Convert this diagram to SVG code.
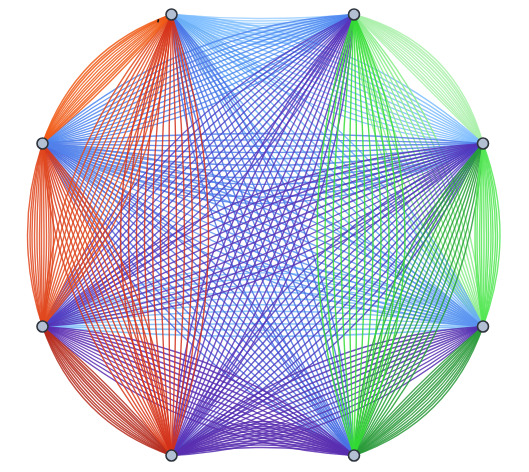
<svg xmlns="http://www.w3.org/2000/svg" width="529" height="472" viewBox="0 0 529 472">
<style>
.e path{fill:none;stroke-width:1.4;vector-effect:non-scaling-stroke}
.e g{stroke-opacity:0.85}
.n{fill:#b3bfd3;stroke:#2e343c;stroke-width:1.6}
</style>
<rect width="529" height="472" fill="#ffffff"/>
<g id="connectors" class="e">
<g id="e0-1" transform="matrix(1.825 0 0 1 171.5 14.5)" stroke="#9ccfff"><path d="M0 0Q50 8 100 0"/><path d="M0 0Q50 13 100 0"/><path d="M0 0Q50 18 100 0"/><path d="M0 0Q50 22 100 0"/><path d="M0 0Q50 27 100 0"/><path d="M0 0Q50 32 100 0"/><path d="M0 0Q50 36 100 0"/><path d="M0 0Q50 41 100 0"/><path d="M0 0Q50 46 100 0"/><path d="M0 0Q50 50 100 0"/><path d="M0 0Q50 55 100 0"/><path d="M0 0Q50 60 100 0"/></g>
<g id="e1-2" transform="matrix(1.29 1.29 -0.7071 0.7071 354 14.5)" stroke="#aaf0aa"><path d="M0 0Q50 -52 100 0"/><path d="M0 0Q50 -47 100 0"/><path d="M0 0Q50 -43 100 0"/><path d="M0 0Q50 -38 100 0"/><path d="M0 0Q50 -33 100 0"/><path d="M0 0Q50 -28 100 0"/><path d="M0 0Q50 -24 100 0"/><path d="M0 0Q50 -19 100 0"/><path d="M0 0Q50 -14 100 0"/><path d="M0 0Q50 -9 100 0"/><path d="M0 0Q50 -5 100 0"/><path d="M0 0Q50 0 100 0"/></g>
<g id="e0-2" transform="matrix(3.115 1.29 -0.3826 0.9239 171.5 14.5)" stroke="#7cbcff"><path d="M0 0Q50 -58 100 0"/><path d="M0 0Q50 -47.5 100 0"/><path d="M0 0Q50 -37 100 0"/><path d="M0 0Q50 -26.5 100 0"/><path d="M0 0Q50 -16 100 0"/><path d="M0 0Q50 -5.5 100 0"/><path d="M0 0Q50 5.5 100 0"/><path d="M0 0Q50 16 100 0"/><path d="M0 0Q50 26.5 100 0"/><path d="M0 0Q50 37 100 0"/><path d="M0 0Q50 47.5 100 0"/><path d="M0 0Q50 58 100 0"/></g>
<g id="e1-3" transform="matrix(1.29 3.12 -0.9241 0.3821 354 14.5)" stroke="#86ec86"><path d="M0 0Q50 -58 100 0"/><path d="M0 0Q50 -47.5 100 0"/><path d="M0 0Q50 -37 100 0"/><path d="M0 0Q50 -26.5 100 0"/><path d="M0 0Q50 -16 100 0"/><path d="M0 0Q50 -5.5 100 0"/><path d="M0 0Q50 5.5 100 0"/><path d="M0 0Q50 16 100 0"/><path d="M0 0Q50 26.5 100 0"/><path d="M0 0Q50 37 100 0"/><path d="M0 0Q50 47.5 100 0"/><path d="M0 0Q50 58 100 0"/></g>
<g id="e3-6" transform="matrix(-4.405 0 0 -1 483 326.5)" stroke="#78b8f8"><path d="M0 0Q50 -20 100 0"/><path d="M0 0Q50 -7.3 100 0"/><path d="M0 0Q50 5.5 100 0"/><path d="M0 0Q50 18.2 100 0"/><path d="M0 0Q50 30.9 100 0"/><path d="M0 0Q50 43.6 100 0"/><path d="M0 0Q50 56.4 100 0"/><path d="M0 0Q50 69.1 100 0"/><path d="M0 0Q50 81.8 100 0"/><path d="M0 0Q50 94.5 100 0"/><path d="M0 0Q50 107.3 100 0"/><path d="M0 0Q50 120 100 0"/></g>
<g id="e0-3" transform="matrix(3.115 3.12 -0.7077 0.7065 171.5 14.5)" stroke="#6aaef5"><path d="M0 0Q50 -74 100 0"/><path d="M0 0Q50 -60.5 100 0"/><path d="M0 0Q50 -47 100 0"/><path d="M0 0Q50 -33.5 100 0"/><path d="M0 0Q50 -20 100 0"/><path d="M0 0Q50 -6.7 100 0"/><path d="M0 0Q50 6.7 100 0"/><path d="M0 0Q50 20 100 0"/><path d="M0 0Q50 33.5 100 0"/><path d="M0 0Q50 47 100 0"/><path d="M0 0Q50 60.5 100 0"/><path d="M0 0Q50 74 100 0"/></g>
<g id="e3-7" transform="matrix(-4.405 -1.83 0.3836 -0.9235 483 326.5)" stroke="#5a92f0"><path d="M0 0Q50 -80 100 0"/><path d="M0 0Q50 -65.5 100 0"/><path d="M0 0Q50 -51 100 0"/><path d="M0 0Q50 -36.5 100 0"/><path d="M0 0Q50 -22 100 0"/><path d="M0 0Q50 -7.3 100 0"/><path d="M0 0Q50 7.3 100 0"/><path d="M0 0Q50 22 100 0"/><path d="M0 0Q50 36.5 100 0"/><path d="M0 0Q50 51 100 0"/><path d="M0 0Q50 65.5 100 0"/><path d="M0 0Q50 80 100 0"/></g>
<g id="e7-1" transform="matrix(3.115 -1.29 0.3826 0.9239 42.5 143.5)" stroke="#4d86ee"><path d="M0 0Q50 -58 100 0"/><path d="M0 0Q50 -47.5 100 0"/><path d="M0 0Q50 -37 100 0"/><path d="M0 0Q50 -26.5 100 0"/><path d="M0 0Q50 -16 100 0"/><path d="M0 0Q50 -5.5 100 0"/><path d="M0 0Q50 5.5 100 0"/><path d="M0 0Q50 16 100 0"/><path d="M0 0Q50 26.5 100 0"/><path d="M0 0Q50 37 100 0"/><path d="M0 0Q50 47.5 100 0"/><path d="M0 0Q50 58 100 0"/></g>
<g id="e4-7" transform="matrix(-3.115 -3.12 0.7077 -0.7065 354 455.5)" stroke="#4e6ee0"><path d="M0 0Q50 -74 100 0"/><path d="M0 0Q50 -60.5 100 0"/><path d="M0 0Q50 -47 100 0"/><path d="M0 0Q50 -33.5 100 0"/><path d="M0 0Q50 -20 100 0"/><path d="M0 0Q50 -6.7 100 0"/><path d="M0 0Q50 6.7 100 0"/><path d="M0 0Q50 20 100 0"/><path d="M0 0Q50 33.5 100 0"/><path d="M0 0Q50 47 100 0"/><path d="M0 0Q50 60.5 100 0"/><path d="M0 0Q50 74 100 0"/></g>
<g id="e0-4" transform="matrix(1.825 4.41 -0.924 0.3824 171.5 14.5)" stroke="#4a72e4"><path d="M0 0Q50 -80 100 0"/><path d="M0 0Q50 -65.5 100 0"/><path d="M0 0Q50 -51 100 0"/><path d="M0 0Q50 -36.5 100 0"/><path d="M0 0Q50 -22 100 0"/><path d="M0 0Q50 -7.3 100 0"/><path d="M0 0Q50 7.3 100 0"/><path d="M0 0Q50 22 100 0"/><path d="M0 0Q50 36.5 100 0"/><path d="M0 0Q50 51 100 0"/><path d="M0 0Q50 65.5 100 0"/><path d="M0 0Q50 80 100 0"/></g>
<g id="e7-2" transform="matrix(4.405 0 0 1 42.5 143.5)" stroke="#5280ea"><path d="M0 0Q50 -20 100 0"/><path d="M0 0Q50 -7.3 100 0"/><path d="M0 0Q50 5.5 100 0"/><path d="M0 0Q50 18.2 100 0"/><path d="M0 0Q50 30.9 100 0"/><path d="M0 0Q50 43.6 100 0"/><path d="M0 0Q50 56.4 100 0"/><path d="M0 0Q50 69.1 100 0"/><path d="M0 0Q50 81.8 100 0"/><path d="M0 0Q50 94.5 100 0"/><path d="M0 0Q50 107.3 100 0"/><path d="M0 0Q50 120 100 0"/></g>
<g id="e2-6" transform="matrix(-4.405 1.83 -0.3836 -0.9235 483 143.5)" stroke="#5534b8"><path d="M0 0Q50 -80 100 0"/><path d="M0 0Q50 -65.5 100 0"/><path d="M0 0Q50 -51 100 0"/><path d="M0 0Q50 -36.5 100 0"/><path d="M0 0Q50 -22 100 0"/><path d="M0 0Q50 -7.3 100 0"/><path d="M0 0Q50 7.3 100 0"/><path d="M0 0Q50 22 100 0"/><path d="M0 0Q50 36.5 100 0"/><path d="M0 0Q50 51 100 0"/><path d="M0 0Q50 65.5 100 0"/><path d="M0 0Q50 80 100 0"/></g>
<g id="e6-1" transform="matrix(3.115 -3.12 0.7077 0.7065 42.5 326.5)" stroke="#5040c4"><path d="M0 0Q50 -74 100 0"/><path d="M0 0Q50 -60.5 100 0"/><path d="M0 0Q50 -47 100 0"/><path d="M0 0Q50 -33.5 100 0"/><path d="M0 0Q50 -20 100 0"/><path d="M0 0Q50 -6.7 100 0"/><path d="M0 0Q50 6.7 100 0"/><path d="M0 0Q50 20 100 0"/><path d="M0 0Q50 33.5 100 0"/><path d="M0 0Q50 47 100 0"/><path d="M0 0Q50 60.5 100 0"/><path d="M0 0Q50 74 100 0"/></g>
<g id="e2-5" transform="matrix(-3.115 3.12 -0.7077 -0.7065 483 143.5)" stroke="#4f3cc0"><path d="M0 0Q50 -74 100 0"/><path d="M0 0Q50 -60.5 100 0"/><path d="M0 0Q50 -47 100 0"/><path d="M0 0Q50 -33.5 100 0"/><path d="M0 0Q50 -20 100 0"/><path d="M0 0Q50 -6.7 100 0"/><path d="M0 0Q50 6.7 100 0"/><path d="M0 0Q50 20 100 0"/><path d="M0 0Q50 33.5 100 0"/><path d="M0 0Q50 47 100 0"/><path d="M0 0Q50 60.5 100 0"/><path d="M0 0Q50 74 100 0"/></g>
<g id="e1-5" transform="matrix(-1.825 4.41 -0.924 -0.3824 354 14.5)" stroke="#5a34b8"><path d="M0 0Q50 -80 100 0"/><path d="M0 0Q50 -65.5 100 0"/><path d="M0 0Q50 -51 100 0"/><path d="M0 0Q50 -36.5 100 0"/><path d="M0 0Q50 -22 100 0"/><path d="M0 0Q50 -7.3 100 0"/><path d="M0 0Q50 7.3 100 0"/><path d="M0 0Q50 22 100 0"/><path d="M0 0Q50 36.5 100 0"/><path d="M0 0Q50 51 100 0"/><path d="M0 0Q50 65.5 100 0"/><path d="M0 0Q50 80 100 0"/></g>
<g id="e3-5" transform="matrix(-3.115 1.29 -0.3826 -0.9239 483 326.5)" stroke="#5530b0"><path d="M0 0Q50 -58 100 0"/><path d="M0 0Q50 -47.5 100 0"/><path d="M0 0Q50 -37 100 0"/><path d="M0 0Q50 -26.5 100 0"/><path d="M0 0Q50 -16 100 0"/><path d="M0 0Q50 -5.5 100 0"/><path d="M0 0Q50 5.5 100 0"/><path d="M0 0Q50 16 100 0"/><path d="M0 0Q50 26.5 100 0"/><path d="M0 0Q50 37 100 0"/><path d="M0 0Q50 47.5 100 0"/><path d="M0 0Q50 58 100 0"/></g>
<g id="e4-6" transform="matrix(-3.115 -1.29 0.3826 -0.9239 354 455.5)" stroke="#5a2cb0"><path d="M0 0Q50 -58 100 0"/><path d="M0 0Q50 -47.5 100 0"/><path d="M0 0Q50 -37 100 0"/><path d="M0 0Q50 -26.5 100 0"/><path d="M0 0Q50 -16 100 0"/><path d="M0 0Q50 -5.5 100 0"/><path d="M0 0Q50 5.5 100 0"/><path d="M0 0Q50 16 100 0"/><path d="M0 0Q50 26.5 100 0"/><path d="M0 0Q50 37 100 0"/><path d="M0 0Q50 47.5 100 0"/><path d="M0 0Q50 58 100 0"/></g>
<g id="e4-5" transform="matrix(-1.825 0 0 -1 354 455.5)" stroke="#5b2fb0"><path d="M0 0Q50 16 100 0"/><path d="M0 0Q50 21 100 0"/><path d="M0 0Q50 25 100 0"/><path d="M0 0Q50 30 100 0"/><path d="M0 0Q50 35 100 0"/><path d="M0 0Q50 40 100 0"/><path d="M0 0Q50 44 100 0"/><path d="M0 0Q50 49 100 0"/><path d="M0 0Q50 54 100 0"/><path d="M0 0Q50 58 100 0"/><path d="M0 0Q50 63 100 0"/><path d="M0 0Q50 68 100 0"/></g>
<g id="e2-4" transform="matrix(-1.29 3.12 -0.9241 -0.3821 483 143.5)" stroke="#25a035"><path d="M0 0Q50 -58 100 0"/><path d="M0 0Q50 -47.5 100 0"/><path d="M0 0Q50 -37 100 0"/><path d="M0 0Q50 -26.5 100 0"/><path d="M0 0Q50 -16 100 0"/><path d="M0 0Q50 -5.5 100 0"/><path d="M0 0Q50 5.5 100 0"/><path d="M0 0Q50 16 100 0"/><path d="M0 0Q50 26.5 100 0"/><path d="M0 0Q50 37 100 0"/><path d="M0 0Q50 47.5 100 0"/><path d="M0 0Q50 58 100 0"/></g>
<g id="e3-4" transform="matrix(-1.29 1.29 -0.7071 -0.7071 483 326.5)" stroke="#2a9a3a"><path d="M0 0Q50 -44 100 0"/><path d="M0 0Q50 -39 100 0"/><path d="M0 0Q50 -35 100 0"/><path d="M0 0Q50 -30 100 0"/><path d="M0 0Q50 -25 100 0"/><path d="M0 0Q50 -20 100 0"/><path d="M0 0Q50 -16 100 0"/><path d="M0 0Q50 -11 100 0"/><path d="M0 0Q50 -6 100 0"/><path d="M0 0Q50 -1 100 0"/><path d="M0 0Q50 3 100 0"/><path d="M0 0Q50 8 100 0"/></g>
<g id="e1-4" transform="matrix(0 4.41 -1 0 354 14.5)" stroke="#33dd33"><path d="M0 0Q50 -102 100 0"/><path d="M0 0Q50 -86 100 0"/><path d="M0 0Q50 -70 100 0"/><path d="M0 0Q50 -54 100 0"/><path d="M0 0Q50 -38 100 0"/><path d="M0 0Q50 -22 100 0"/><path d="M0 0Q50 -6 100 0"/><path d="M0 0Q50 10 100 0"/><path d="M0 0Q50 26 100 0"/><path d="M0 0Q50 42 100 0"/><path d="M0 0Q50 58 100 0"/><path d="M0 0Q50 74 100 0"/></g>
<g id="e2-3" transform="matrix(0 1.83 -1 0 483 143.5)" stroke="#55e855"><path d="M0 0Q50 -34 100 0"/><path d="M0 0Q50 -29 100 0"/><path d="M0 0Q50 -25 100 0"/><path d="M0 0Q50 -20 100 0"/><path d="M0 0Q50 -16 100 0"/><path d="M0 0Q50 -11 100 0"/><path d="M0 0Q50 -7 100 0"/><path d="M0 0Q50 -2 100 0"/><path d="M0 0Q50 3 100 0"/><path d="M0 0Q50 7 100 0"/><path d="M0 0Q50 12 100 0"/><path d="M0 0Q50 16 100 0"/></g>
<g id="e5-6" transform="matrix(-1.29 -1.29 0.7071 -0.7071 171.5 455.5)" stroke="#b52a1c"><path d="M0 0Q50 -44 100 0"/><path d="M0 0Q50 -39 100 0"/><path d="M0 0Q50 -35 100 0"/><path d="M0 0Q50 -30 100 0"/><path d="M0 0Q50 -25 100 0"/><path d="M0 0Q50 -20 100 0"/><path d="M0 0Q50 -16 100 0"/><path d="M0 0Q50 -11 100 0"/><path d="M0 0Q50 -6 100 0"/><path d="M0 0Q50 -1 100 0"/><path d="M0 0Q50 3 100 0"/><path d="M0 0Q50 8 100 0"/></g>
<g id="e5-7" transform="matrix(-1.29 -3.12 0.9241 -0.3821 171.5 455.5)" stroke="#d83a1a"><path d="M0 0Q50 -58 100 0"/><path d="M0 0Q50 -47.5 100 0"/><path d="M0 0Q50 -37 100 0"/><path d="M0 0Q50 -26.5 100 0"/><path d="M0 0Q50 -16 100 0"/><path d="M0 0Q50 -5.5 100 0"/><path d="M0 0Q50 5.5 100 0"/><path d="M0 0Q50 16 100 0"/><path d="M0 0Q50 26.5 100 0"/><path d="M0 0Q50 37 100 0"/><path d="M0 0Q50 47.5 100 0"/><path d="M0 0Q50 58 100 0"/></g>
<g id="e6-0" transform="matrix(1.29 -3.12 0.9241 0.3821 42.5 326.5)" stroke="#e24a1c"><path d="M0 0Q50 -58 100 0"/><path d="M0 0Q50 -47.5 100 0"/><path d="M0 0Q50 -37 100 0"/><path d="M0 0Q50 -26.5 100 0"/><path d="M0 0Q50 -16 100 0"/><path d="M0 0Q50 -5.5 100 0"/><path d="M0 0Q50 5.5 100 0"/><path d="M0 0Q50 16 100 0"/><path d="M0 0Q50 26.5 100 0"/><path d="M0 0Q50 37 100 0"/><path d="M0 0Q50 47.5 100 0"/><path d="M0 0Q50 58 100 0"/></g>
<g id="e5-0" transform="matrix(0 -4.41 1 0 171.5 455.5)" stroke="#d4301a"><path d="M0 0Q50 -102 100 0"/><path d="M0 0Q50 -86 100 0"/><path d="M0 0Q50 -70 100 0"/><path d="M0 0Q50 -54 100 0"/><path d="M0 0Q50 -38 100 0"/><path d="M0 0Q50 -22 100 0"/><path d="M0 0Q50 -6 100 0"/><path d="M0 0Q50 10 100 0"/><path d="M0 0Q50 26 100 0"/><path d="M0 0Q50 42 100 0"/><path d="M0 0Q50 58 100 0"/><path d="M0 0Q50 74 100 0"/></g>
<g id="e6-7" transform="matrix(0 -1.83 1 0 42.5 326.5)" stroke="#e0481f"><path d="M0 0Q50 -30 100 0"/><path d="M0 0Q50 -25 100 0"/><path d="M0 0Q50 -21 100 0"/><path d="M0 0Q50 -16 100 0"/><path d="M0 0Q50 -11 100 0"/><path d="M0 0Q50 -6 100 0"/><path d="M0 0Q50 -2 100 0"/><path d="M0 0Q50 3 100 0"/><path d="M0 0Q50 8 100 0"/><path d="M0 0Q50 13 100 0"/><path d="M0 0Q50 17 100 0"/><path d="M0 0Q50 22 100 0"/></g>
<g id="e7-0" transform="matrix(1.29 -1.29 0.7071 0.7071 42.5 143.5)" stroke="#f05a16"><path d="M0 0Q50 -44 100 0"/><path d="M0 0Q50 -39 100 0"/><path d="M0 0Q50 -35 100 0"/><path d="M0 0Q50 -30 100 0"/><path d="M0 0Q50 -25 100 0"/><path d="M0 0Q50 -20 100 0"/><path d="M0 0Q50 -16 100 0"/><path d="M0 0Q50 -11 100 0"/><path d="M0 0Q50 -6 100 0"/><path d="M0 0Q50 -1 100 0"/><path d="M0 0Q50 3 100 0"/><path d="M0 0Q50 8 100 0"/></g>
</g>
<path d="M158.6 19.2 L157.8 22.4" stroke="#111" stroke-width="1.6" fill="none"/>
<g id="n0"><circle class="n" cx="171.5" cy="14.5" r="5.5"/></g>
<g id="n1"><circle class="n" cx="354" cy="14.5" r="5.5"/></g>
<g id="n2"><circle class="n" cx="483" cy="143.5" r="5.5"/></g>
<g id="n3"><circle class="n" cx="483" cy="326.5" r="5.5"/></g>
<g id="n4"><circle class="n" cx="354" cy="455.5" r="5.5"/></g>
<g id="n5"><circle class="n" cx="171.5" cy="455.5" r="5.5"/></g>
<g id="n6"><circle class="n" cx="42.5" cy="326.5" r="5.5"/></g>
<g id="n7"><circle class="n" cx="42.5" cy="143.5" r="5.5"/></g>
</svg>
